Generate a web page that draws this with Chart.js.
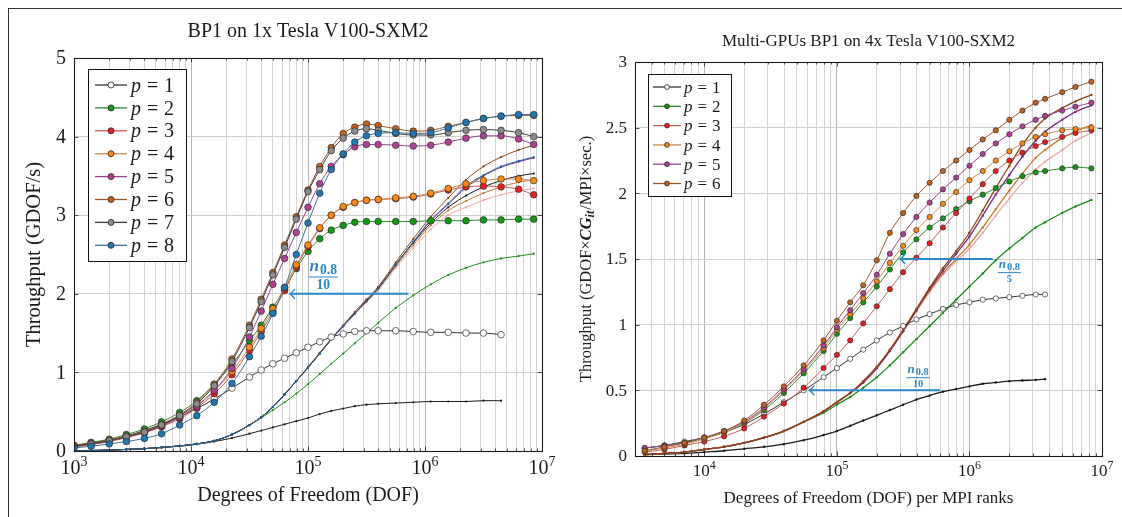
<!DOCTYPE html>
<html>
<head>
<meta charset="utf-8">
<script src="https://cdn.jsdelivr.net/npm/chart.js@4.4.1/dist/chart.umd.min.js"></script>
<style>
html, body { margin: 0; padding: 0; background: #fff; }
#page { position: relative; width: 1122px; height: 517px; overflow: hidden; background: #fff; }
#frame { position: absolute; left: 8px; top: 8px; width: 1114px; height: 509px; border-top: 1.5px solid #333; border-left: 1.5px solid #333; }
canvas { position: absolute; top: 0; }
#c1 { left: 0; }
#c2 { left: 561px; }
</style>
</head>
<body>
<div id="page">
  <div id="frame"></div>
  <canvas id="c1" width="561" height="517"></canvas>
  <canvas id="c2" width="561" height="517"></canvas>
</div>
<script>
const SERIF = '"Liberation Serif", "DejaVu Serif", serif';

// ---------- left panel : BP1 on 1x V100 ----------
const dof1 = [1000, 1400, 2000, 2800, 4000, 5600, 8000, 11200, 15800, 22400, 31600, 39800, 50100, 63100, 79400,
  100000, 126000, 158000, 200000, 251000, 316000, 398000, 562000, 794000, 1120000, 1580000, 2240000, 3160000, 4470000, 6310000, 8500000];

// throughput curves (markers)
const single_p1 = [0.07, 0.10, 0.14, 0.19, 0.26, 0.34, 0.44, 0.54, 0.66, 0.80, 0.94, 1.03, 1.11, 1.18, 1.25, 1.32, 1.39, 1.45, 1.49, 1.52, 1.53, 1.53, 1.53, 1.52, 1.51, 1.51, 1.50, 1.50, 1.48, null, null];
const single_p2 = [0.07, 0.11, 0.15, 0.21, 0.28, 0.37, 0.49, 0.64, 0.85, 1.10, 1.40, 1.60, 1.83, 2.06, 2.32, 2.54, 2.70, 2.81, 2.87, 2.91, 2.92, 2.92, 2.92, 2.92, 2.93, 2.93, 2.93, 2.94, 2.94, 2.95, 2.95];
const single_p3 = [0.05, 0.08, 0.12, 0.17, 0.23, 0.31, 0.41, 0.55, 0.73, 0.97, 1.28, 1.52, 1.77, 2.04, 2.34, 2.60, 2.83, 3.00, 3.10, 3.16, 3.19, 3.20, 3.21, 3.23, 3.27, 3.32, 3.36, 3.37, 3.36, 3.33, 3.26];
const single_p4 = [0.06, 0.09, 0.13, 0.18, 0.24, 0.32, 0.43, 0.58, 0.77, 1.01, 1.32, 1.56, 1.81, 2.08, 2.37, 2.62, 2.84, 3.00, 3.11, 3.16, 3.19, 3.20, 3.22, 3.24, 3.28, 3.34, 3.40, 3.44, 3.46, 3.46, 3.44];
const single_p5 = [0.06, 0.09, 0.13, 0.18, 0.24, 0.32, 0.43, 0.57, 0.77, 1.05, 1.45, 1.78, 2.12, 2.45, 2.78, 3.10, 3.40, 3.62, 3.77, 3.87, 3.90, 3.90, 3.89, 3.88, 3.89, 3.93, 3.98, 4.01, 4.01, 3.97, 3.90];
const single_p6 = [0.07, 0.10, 0.14, 0.19, 0.25, 0.34, 0.46, 0.62, 0.85, 1.17, 1.60, 1.93, 2.27, 2.62, 2.98, 3.32, 3.62, 3.86, 4.04, 4.12, 4.16, 4.14, 4.10, 4.07, 4.08, 4.13, 4.18, 4.23, 4.26, 4.27, 4.27];
const single_p7 = [0.06, 0.09, 0.13, 0.18, 0.24, 0.33, 0.45, 0.60, 0.83, 1.14, 1.57, 1.90, 2.24, 2.59, 2.95, 3.30, 3.58, 3.82, 3.98, 4.07, 4.10, 4.08, 4.04, 4.02, 4.02, 4.05, 4.08, 4.09, 4.08, 4.05, 4.00];
const single_p8 = [0.04, 0.06, 0.09, 0.12, 0.16, 0.22, 0.33, 0.45, 0.62, 0.86, 1.20, 1.46, 1.75, 2.08, 2.50, 2.90, 3.28, 3.58, 3.78, 3.93, 4.01, 4.04, 4.05, 4.04, 4.05, 4.11, 4.18, 4.23, 4.26, 4.28, 4.28];

// lower curves (small dots)
const singleThin_p1 = [0.00, 0.01, 0.015, 0.02, 0.03, 0.045, 0.06, 0.085, 0.12, 0.165, 0.22, 0.26, 0.30, 0.34, 0.38, 0.42, 0.47, 0.51, 0.54, 0.57, 0.59, 0.60, 0.61, 0.62, 0.63, 0.63, 0.63, 0.64, 0.64, null, null];
const singleThin_p2 = [0.00, 0.005, 0.01, 0.02, 0.03, 0.045, 0.065, 0.09, 0.13, 0.21, 0.33, 0.42, 0.52, 0.62, 0.73, 0.85, 0.98, 1.11, 1.24, 1.37, 1.50, 1.63, 1.82, 1.98, 2.12, 2.24, 2.33, 2.40, 2.45, 2.48, 2.51];
const singleThin_p3 = [0.00, 0.005, 0.01, 0.02, 0.03, 0.045, 0.065, 0.09, 0.13, 0.21, 0.33, 0.43, 0.56, 0.72, 0.89, 1.06, 1.24, 1.42, 1.58, 1.74, 1.89, 2.04, 2.33, 2.58, 2.82, 3.00, 3.10, 3.19, 3.26, 3.31, 3.34];
const singleThin_p4 = [0.00, 0.005, 0.01, 0.02, 0.03, 0.045, 0.065, 0.09, 0.13, 0.21, 0.33, 0.43, 0.56, 0.72, 0.89, 1.06, 1.24, 1.42, 1.59, 1.75, 1.90, 2.06, 2.35, 2.62, 2.87, 3.06, 3.18, 3.28, 3.36, 3.42, 3.45];
const singleThin_p5 = [0.00, 0.005, 0.01, 0.02, 0.03, 0.045, 0.065, 0.09, 0.13, 0.21, 0.33, 0.43, 0.56, 0.72, 0.89, 1.06, 1.24, 1.42, 1.59, 1.75, 1.91, 2.07, 2.37, 2.66, 2.93, 3.14, 3.35, 3.50, 3.61, 3.68, 3.73];
const singleThin_p6 = [0.00, 0.005, 0.01, 0.02, 0.03, 0.045, 0.065, 0.09, 0.13, 0.21, 0.33, 0.43, 0.56, 0.72, 0.89, 1.07, 1.25, 1.43, 1.60, 1.77, 1.93, 2.09, 2.40, 2.70, 2.98, 3.22, 3.45, 3.62, 3.74, 3.83, 3.89];
const singleThin_p7 = [0.00, 0.005, 0.01, 0.02, 0.03, 0.045, 0.065, 0.09, 0.13, 0.21, 0.33, 0.43, 0.56, 0.72, 0.89, 1.06, 1.24, 1.42, 1.59, 1.75, 1.91, 2.07, 2.37, 2.65, 2.90, 3.10, 3.25, 3.36, 3.44, 3.50, 3.53];
const singleThin_p8 = [0.00, 0.005, 0.01, 0.02, 0.03, 0.045, 0.065, 0.09, 0.13, 0.21, 0.33, 0.43, 0.56, 0.72, 0.89, 1.06, 1.24, 1.42, 1.59, 1.75, 1.91, 2.07, 2.37, 2.66, 2.94, 3.15, 3.37, 3.51, 3.62, 3.69, 3.74];

// ---------- right panel : multi-GPU BP1 on 4x V100 ----------
const dof4 = [3550, 5000, 7100, 10000, 14100, 20000, 28200, 39800, 56200, 79400, 100000, 126000, 158000, 200000, 251000,
  316000, 398000, 501000, 631000, 794000, 1000000, 1260000, 1580000, 2000000, 2510000, 3160000, 3720000, 5010000, 6310000, 8320000];

const multi_p1 = [0.06, 0.08, 0.11, 0.14, 0.18, 0.24, 0.32, 0.41, 0.50, 0.60, 0.67, 0.74, 0.81, 0.88, 0.94, 0.99, 1.04, 1.08, 1.12, 1.15, 1.17, 1.19, 1.20, 1.21, 1.22, 1.23, 1.23, null, null, null];
const multi_p2 = [0.06, 0.08, 0.10, 0.14, 0.18, 0.25, 0.35, 0.48, 0.63, 0.80, 0.93, 1.05, 1.17, 1.29, 1.42, 1.55, 1.65, 1.74, 1.81, 1.88, 1.94, 1.99, 2.04, 2.09, 2.13, 2.16, 2.17, 2.19, 2.20, 2.19];
const multi_p3 = [0.03, 0.05, 0.08, 0.11, 0.15, 0.21, 0.30, 0.40, 0.52, 0.67, 0.77, 0.88, 1.01, 1.14, 1.27, 1.40, 1.51, 1.62, 1.74, 1.85, 1.96, 2.07, 2.17, 2.25, 2.31, 2.36, 2.39, 2.43, 2.46, 2.48];
const multi_p4 = [0.04, 0.06, 0.09, 0.13, 0.18, 0.25, 0.36, 0.50, 0.65, 0.82, 0.96, 1.08, 1.20, 1.33, 1.47, 1.60, 1.72, 1.82, 1.92, 2.01, 2.10, 2.17, 2.25, 2.32, 2.38, 2.43, 2.45, 2.48, 2.49, 2.50];
const multi_p5 = [0.06, 0.08, 0.10, 0.14, 0.19, 0.26, 0.37, 0.51, 0.66, 0.84, 0.98, 1.11, 1.24, 1.38, 1.54, 1.69, 1.82, 1.93, 2.03, 2.12, 2.21, 2.30, 2.38, 2.45, 2.51, 2.56, 2.59, 2.63, 2.66, 2.69];
const multi_p6 = [0.04, 0.07, 0.10, 0.14, 0.19, 0.27, 0.39, 0.53, 0.69, 0.88, 1.03, 1.17, 1.30, 1.49, 1.70, 1.85, 1.98, 2.08, 2.17, 2.25, 2.33, 2.41, 2.48, 2.56, 2.63, 2.69, 2.72, 2.77, 2.81, 2.85];

const multiThin_p1 = [0.01, 0.015, 0.02, 0.03, 0.04, 0.055, 0.07, 0.09, 0.12, 0.16, 0.19, 0.23, 0.27, 0.31, 0.35, 0.39, 0.43, 0.46, 0.49, 0.51, 0.53, 0.55, 0.56, 0.57, 0.575, 0.58, 0.585, null, null, null];
const multiThin_p2 = [0.01, 0.02, 0.03, 0.05, 0.07, 0.10, 0.14, 0.19, 0.26, 0.33, 0.39, 0.45, 0.52, 0.60, 0.69, 0.79, 0.89, 0.99, 1.09, 1.19, 1.29, 1.39, 1.49, 1.58, 1.66, 1.74, 1.78, 1.85, 1.90, 1.95];
const multiThin_p3 = [0.01, 0.02, 0.03, 0.05, 0.07, 0.10, 0.14, 0.19, 0.26, 0.34, 0.41, 0.48, 0.56, 0.67, 0.80, 0.95, 1.10, 1.25, 1.38, 1.48, 1.58, 1.70, 1.83, 1.96, 2.08, 2.18, 2.24, 2.33, 2.40, 2.46];
const multiThin_p4 = [0.01, 0.02, 0.03, 0.05, 0.07, 0.10, 0.14, 0.19, 0.26, 0.34, 0.41, 0.48, 0.56, 0.67, 0.80, 0.95, 1.11, 1.26, 1.39, 1.50, 1.61, 1.74, 1.88, 2.02, 2.15, 2.27, 2.33, 2.42, 2.47, 2.52];
const multiThin_p5 = [0.01, 0.02, 0.03, 0.05, 0.07, 0.10, 0.14, 0.19, 0.26, 0.34, 0.41, 0.48, 0.56, 0.67, 0.80, 0.95, 1.11, 1.27, 1.41, 1.54, 1.67, 1.83, 1.99, 2.14, 2.28, 2.40, 2.47, 2.56, 2.62, 2.67];
const multiThin_p6 = [0.01, 0.02, 0.03, 0.05, 0.07, 0.10, 0.14, 0.19, 0.26, 0.34, 0.41, 0.48, 0.57, 0.68, 0.81, 0.96, 1.12, 1.28, 1.43, 1.56, 1.70, 1.87, 2.04, 2.21, 2.37, 2.50, 2.57, 2.65, 2.70, 2.75];

// ticks
const decadesLeft = [3, 4, 5, 6, 7];
const decadesRight = [4, 5, 6, 7];
const yTicksLeft = [0, 1, 2, 3, 4, 5];
const yLabelsLeft = ['0', '1', '2', '3', '4', '5'];
const yTicksRight = [0, 0.5, 1, 1.5, 2, 2.5, 3];
const yLabelsRight = ['0', '0.5', '1', '1.5', '2', '2.5', '3'];

// n_0.8 arrows: [from dof, to dof, y]
const arrowLeft = [720000, 70000, 2];
const arrowRight5 = [1500000, 300000, 1.5];
const arrowRight10 = [600000, 62000, 0.5];

const pStyle = [
  { line: '#333333', fill: '#ffffff', thin: '#1a1a1a' },
  { line: '#2f8a2f', fill: '#129a12', thin: '#1a8c1a' },
  { line: '#c45a5a', fill: '#ee1c1c', thin: '#f2a5a5' },
  { line: '#cf8a4c', fill: '#ff8a12', thin: '#c8782c' },
  { line: '#94448a', fill: '#b23f98', thin: '#7e2a78' },
  { line: '#97572f', fill: '#c4621c', thin: '#8b4513' },
  { line: '#3a3a3a', fill: '#8c8c8c', thin: '#1a1a1a' },
  { line: '#3c6f98', fill: '#1f78b4', thin: '#1f6aa5' }
];
const ARROW = '#2c87c6';

function pts(xs, ys) {
  return xs.map((x, i) => ({ x, y: ys[i] })).filter(p => p.y !== null);
}

function markerSet(xs, ys, i, r) {
  const s = pStyle[i];
  return {
    data: pts(xs, ys), borderColor: s.line, borderWidth: 1, backgroundColor: s.fill,
    pointBackgroundColor: s.fill, pointBorderColor: '#2b2b2b', pointBorderWidth: 0.7, pointRadius: r,
    cubicInterpolationMode: 'monotone', order: 20 - i
  };
}

function thinSet(xs, ys, i, r, w) {
  const s = pStyle[i];
  return {
    data: pts(xs, ys), borderColor: s.thin, borderWidth: w, backgroundColor: s.thin,
    pointBackgroundColor: s.thin, pointBorderWidth: 0, pointRadius: r,
    cubicInterpolationMode: 'monotone', order: 40 - i
  };
}

function logGrid(min, max) {
  const t = [];
  for (let e = Math.floor(Math.log10(min)); e <= Math.ceil(Math.log10(max)); e++) {
    for (let m = 1; m < 10; m++) {
      const v = m * Math.pow(10, e);
      if (v >= min * 0.999 && v <= max * 1.001) t.push({ value: v });
    }
  }
  return t;
}
const isDecade = v => Math.abs(Math.log10(v) - Math.round(Math.log10(v))) < 1e-6;

function rich(ctx, segs, x, y, align) {
  let w = 0;
  segs.forEach(s => { ctx.font = s.f; w += ctx.measureText(s.t).width + (s.gap || 0); });
  let cx = align === 'left' ? x : x - w / 2;
  ctx.textAlign = 'left';
  ctx.textBaseline = 'alphabetic';
  segs.forEach(s => {
    ctx.font = s.f;
    ctx.fillText(s.t, cx, y + (s.dy || 0));
    cx += ctx.measureText(s.t).width + (s.gap || 0);
  });
  return w;
}

function drawFrac(ctx, cx, yBar, denom, fs, color) {
  const fsub = fs * 0.8;
  ctx.fillStyle = color;
  ctx.strokeStyle = color;
  const w = rich(ctx, [
    { t: 'n', f: `bold italic ${fs}px ${SERIF}`, gap: 1 },
    { t: '0.8', f: `bold ${fsub}px ${SERIF}`, dy: fs * 0.2 }
  ], cx, yBar - fs * 0.35, 'center');
  ctx.lineWidth = 1;
  ctx.beginPath();
  ctx.moveTo(cx - w / 2 - 1, yBar + 0.5);
  ctx.lineTo(cx + w / 2 + 1, yBar + 0.5);
  ctx.stroke();
  ctx.font = `bold ${fsub}px ${SERIF}`;
  ctx.textAlign = 'center';
  ctx.textBaseline = 'alphabetic';
  ctx.fillText(denom, cx, yBar + fsub * 0.95);
}

function drawArrow(ctx, x0, x1, y) {
  ctx.strokeStyle = ARROW;
  ctx.lineWidth = 2;
  ctx.beginPath(); ctx.moveTo(x0, y); ctx.lineTo(x1 + 1, y); ctx.stroke();
  ctx.lineWidth = 1.4;
  ctx.beginPath();
  ctx.moveTo(x1 + 5, y - 5); ctx.quadraticCurveTo(x1 + 2, y - 1, x1, y); ctx.quadraticCurveTo(x1 + 2, y + 1, x1 + 5, y + 5);
  ctx.stroke();
}

const panelPlugin = {
  id: 'panel',
  afterDatasetsDraw(chart, args, o) {
    const { ctx, chartArea: a, scales: { x, y } } = chart;
    ctx.save();

    // ticks inside the box
    ctx.strokeStyle = '#222';
    ctx.lineWidth = 0.8;
    x.ticks.forEach(t => {
      const px = Math.round(x.getPixelForValue(t.value)) + 0.5;
      const len = isDecade(t.value) ? 4.5 : 2.5;
      ctx.beginPath();
      ctx.moveTo(px, a.bottom); ctx.lineTo(px, a.bottom - len);
      ctx.moveTo(px, a.top); ctx.lineTo(px, a.top + len);
      ctx.stroke();
    });
    y.ticks.forEach(t => {
      const py = Math.round(y.getPixelForValue(t.value)) + 0.5;
      ctx.beginPath();
      ctx.moveTo(a.left, py); ctx.lineTo(a.left + 4.5, py);
      ctx.moveTo(a.right, py); ctx.lineTo(a.right - 4.5, py);
      ctx.stroke();
    });

    // box
    ctx.strokeStyle = '#1a1a1a';
    ctx.lineWidth = 1.1;
    ctx.strokeRect(Math.round(a.left) + 0.5, Math.round(a.top) + 0.5, Math.round(a.right - a.left), Math.round(a.bottom - a.top));

    // arrows + fractions
    o.arrows.forEach(ar => {
      const yy = y.getPixelForValue(ar.v[2]);
      drawArrow(ctx, x.getPixelForValue(ar.v[0]), x.getPixelForValue(ar.v[1]), yy);
      drawFrac(ctx, x.getPixelForValue(ar.labelX), y.getPixelForValue(ar.labelY), ar.denom, ar.fs, ARROW);
    });

    // legend
    const L = o.legend;
    ctx.fillStyle = '#fff';
    ctx.fillRect(L.x, L.y, L.w, L.h);
    ctx.strokeStyle = '#111';
    ctx.lineWidth = 1;
    ctx.strokeRect(L.x + 0.5, L.y + 0.5, L.w, L.h);
    for (let i = 0; i < L.n; i++) {
      const s = pStyle[i];
      const yy = L.y0 + i * L.dy;
      ctx.strokeStyle = s.line;
      ctx.lineWidth = 1.3;
      ctx.beginPath(); ctx.moveTo(L.lx0, yy); ctx.lineTo(L.lx1, yy); ctx.stroke();
      ctx.beginPath(); ctx.arc((L.lx0 + L.lx1) / 2, yy, L.r, 0, Math.PI * 2);
      ctx.fillStyle = s.fill; ctx.fill();
      ctx.strokeStyle = '#222'; ctx.lineWidth = 0.8; ctx.stroke();
      ctx.fillStyle = '#1a1a1a';
      ctx.textAlign = 'left';
      ctx.textBaseline = 'alphabetic';
      const by = yy + L.fs * 0.33;
      ctx.font = `italic ${L.fs}px ${SERIF}`;
      ctx.fillText('p', L.tx, by);
      ctx.font = `${L.fs}px ${SERIF}`;
      ctx.fillText('=', L.tx + L.fs * 0.8, by);
      ctx.fillText(String(i + 1), L.tx + L.fs * 1.65, by);
    }

    // tick labels
    ctx.fillStyle = '#1a1a1a';
    o.yTicks.forEach((v, i) => {
      ctx.font = `${o.fs}px ${SERIF}`;
      ctx.textAlign = 'right';
      ctx.textBaseline = 'middle';
      ctx.fillText(o.yLabels[i], a.left - o.yGap, y.getPixelForValue(v) + 1);
    });
    o.decades.forEach(e => {
      const px = x.getPixelForValue(Math.pow(10, e));
      ctx.font = `${o.fs}px ${SERIF}`;
      const w1 = ctx.measureText('10').width;
      ctx.font = `${Math.round(o.fs * 0.7)}px ${SERIF}`;
      const w2 = ctx.measureText(String(e)).width;
      const x0 = px - (w1 + w2) / 2;
      ctx.textAlign = 'left';
      ctx.textBaseline = 'alphabetic';
      ctx.font = `${o.fs}px ${SERIF}`;
      ctx.fillText('10', x0, o.xLabelY);
      ctx.font = `${Math.round(o.fs * 0.7)}px ${SERIF}`;
      ctx.fillText(String(e), x0 + w1, o.xLabelY - o.fs * 0.42);
    });

    // titles
    const cx = (a.left + a.right) / 2;
    ctx.textAlign = 'center';
    ctx.textBaseline = 'middle';
    ctx.font = `${o.titleFs}px ${SERIF}`;
    ctx.fillText(o.title, cx, o.titleY);
    ctx.font = `${o.fs}px ${SERIF}`;
    ctx.fillText(o.xTitle, cx, o.xTitleY);
    ctx.save();
    ctx.translate(o.yTitleX, (a.top + a.bottom) / 2);
    ctx.rotate(-Math.PI / 2);
    rich(ctx, o.yTitle, 0, o.fs * 0.33, 'center');
    ctx.restore();

    ctx.restore();
  }
};

function makeChart(id, datasets, xMin, xMax, yMax, yTicks, padding, panel) {
  return new Chart(document.getElementById(id), {
    type: 'line',
    data: { datasets },
    options: {
      responsive: false,
      animation: false,
      devicePixelRatio: 1,
      layout: { padding },
      plugins: { legend: { display: false }, tooltip: { enabled: false }, panel },
      scales: {
        x: {
          type: 'logarithmic', min: xMin, max: xMax,
          afterBuildTicks: s => { s.ticks = logGrid(xMin, xMax); },
          ticks: { display: false },
          grid: { color: c => (c.tick && isDecade(c.tick.value)) ? '#b5b5b5' : '#d3d3d3', drawTicks: false, lineWidth: 1 },
          border: { display: false }
        },
        y: {
          type: 'linear', min: 0, max: yMax,
          afterBuildTicks: s => { s.ticks = yTicks.map(v => ({ value: v })); },
          ticks: { display: false },
          grid: { color: '#cdcdcd', drawTicks: false, lineWidth: 1 },
          border: { display: false }
        }
      }
    },
    plugins: [panelPlugin]
  });
}

// left chart
const singleTop = [single_p1, single_p2, single_p3, single_p4, single_p5, single_p6, single_p7, single_p8];
const singleLow = [singleThin_p1, singleThin_p2, singleThin_p3, singleThin_p4, singleThin_p5, singleThin_p6, singleThin_p7, singleThin_p8];
const leftSets = [];
singleLow.forEach((ys, i) => leftSets.push(thinSet(dof1, ys, i, 1.1, 1)));
singleTop.forEach((ys, i) => leftSets.push(markerSet(dof1, ys, i, 3.3)));

makeChart('c1', leftSets, 1000, 1e7, 5, yTicksLeft, { left: 74, top: 58, right: 19, bottom: 66 }, {
  fs: 20, titleFs: 20, yGap: 8, xLabelY: 474, titleY: 32, xTitleY: 496, yTitleX: 33,
  title: 'BP1 on 1x Tesla V100-SXM2',
  xTitle: 'Degrees of Freedom (DOF)',
  yTitle: [{ t: 'Throughput (GDOF/s)', f: `20.5px ${SERIF}` }],
  yTicks: yTicksLeft, yLabels: yLabelsLeft, decades: decadesLeft,
  arrows: [{ v: arrowLeft, labelX: 135000, labelY: 2.22, denom: '10', fs: 17 }],
  legend: { n: 8, x: 88, y: 69, w: 98, h: 192, y0: 85, dy: 22.9, lx0: 95, lx1: 127, r: 3, tx: 131, fs: 20 }
});

// right chart
const multiTop = [multi_p1, multi_p2, multi_p3, multi_p4, multi_p5, multi_p6];
const multiLow = [multiThin_p1, multiThin_p2, multiThin_p3, multiThin_p4, multiThin_p5, multiThin_p6];
const rightSets = [];
multiLow.forEach((ys, i) => rightSets.push(thinSet(dof4, ys, i, 1.2, 1.3)));
multiTop.forEach((ys, i) => rightSets.push(markerSet(dof4, ys, i, 2.6)));

makeChart('c2', rightSets, 3000, 1e7, 3, yTicksRight, { left: 74, top: 62, right: 20, bottom: 61 }, {
  fs: 17, titleFs: 17, yGap: 8, xLabelY: 476, titleY: 42, xTitleY: 499, yTitleX: 24,
  title: 'Multi-GPUs BP1 on 4x Tesla V100-SXM2',
  xTitle: 'Degrees of Freedom (DOF) per MPI ranks',
  yTitle: [
    { t: 'Throughput (GDOF×', f: `16.5px ${SERIF}` },
    { t: 'CG', f: `bold italic 16.5px ${SERIF}` },
    { t: 'it', f: `bold italic 12px ${SERIF}`, dy: 3, gap: 1 },
    { t: '/MPI×sec.)', f: `16.5px ${SERIF}` }
  ],
  yTicks: yTicksRight, yLabels: yLabelsRight, decades: decadesRight,
  arrows: [
    { v: arrowRight5, labelX: 2000000, labelY: 1.40, denom: '5', fs: 13 },
    { v: arrowRight10, labelX: 410000, labelY: 0.60, denom: '10', fs: 13 }
  ],
  legend: { n: 6, x: 87, y: 74, w: 83, h: 122, y0: 87, dy: 19.3, lx0: 92, lx1: 120, r: 2.4, tx: 123, fs: 17 }
});
</script>
</body>
</html>
